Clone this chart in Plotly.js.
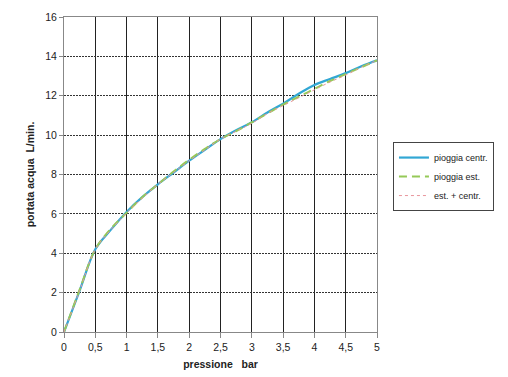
<!DOCTYPE html>
<html>
<head>
<meta charset="utf-8">
<script src="https://cdn.plot.ly/plotly-3.0.1.min.js"></script>
<style>html,body{margin:0;padding:0;background:#fff;}#chart{width:508px;height:377px;}</style>
</head>
<body>
<div id="chart"></div>
<script>
const pressione = [0, 0.25, 0.5, 0.75, 1, 1.25, 1.5, 1.75, 2, 2.25, 2.5, 2.75, 3, 3.25, 3.5, 3.75, 4, 4.25, 4.5, 4.75, 5];
const pioggiaCentr = [0, 2.1, 4.2, 5.2, 6.1, 6.85, 7.5, 8.1, 8.7, 9.25, 9.8, 10.25, 10.65, 11.15, 11.6, 12.1, 12.55, 12.85, 13.15, 13.5, 13.8];
const pioggiaEst = [0, 2.15, 4.2, 5.25, 6.05, 6.85, 7.5, 8.15, 8.75, 9.3, 9.8, 10.2, 10.65, 11.1, 11.55, 11.95, 12.35, 12.75, 13.1, 13.45, 13.8];
const estCentr = [0, 2.1, 4.2, 5.2, 6.05, 6.8, 7.5, 8.1, 8.7, 9.25, 9.8, 10.2, 10.6, 11.1, 11.5, 11.9, 12.3, 12.7, 13.05, 13.45, 13.8];
const xTickVals = [0, 0.5, 1, 1.5, 2, 2.5, 3, 3.5, 4, 4.5, 5];
const xTickText = ['0', '0,5', '1', '1,5', '2', '2,5', '3', '3,5', '4', '4,5', '5'];
const yTickVals = [0, 2, 4, 6, 8, 10, 12, 14, 16];
const seriesNames = ['pioggia centr.', 'pioggia est.', 'est. + centr.'];

const traces = [
  {x: pressione, y: pioggiaCentr, name: seriesNames[0], mode: 'lines', line: {color: '#31a7d4', width: 2.2, shape: 'spline'}},
  {x: pressione, y: pioggiaEst, name: seriesNames[1], mode: 'lines', line: {color: '#95c958', width: 2, dash: '8px,5px', shape: 'spline'}},
  {x: pressione, y: estCentr, name: seriesNames[2], mode: 'lines', line: {color: '#e8959c', width: 1, dash: 'dot', shape: 'spline'}}
];

const layout = {
  width: 508, height: 377,
  margin: {l: 64, r: 131, t: 17, b: 45},
  paper_bgcolor: '#ffffff', plot_bgcolor: '#ffffff',
  font: {family: 'Liberation Sans, Arial, sans-serif', size: 10, color: '#222'},
  showlegend: true,
  legend: {x: 1.051, y: 0.603, xanchor: 'left', yanchor: 'top', bordercolor: '#444', borderwidth: 1,
           font: {size: 9, color: '#222'}, bgcolor: '#fff', tracegroupgap: 0},
  xaxis: {
    range: [0, 5], tickvals: xTickVals, ticktext: xTickText,
    showgrid: true, gridcolor: '#222', gridwidth: 1,
    showline: true, linecolor: '#888', linewidth: 1, mirror: true,
    ticks: 'outside', ticklen: 5, tickcolor: '#888',
    zeroline: false, fixedrange: true,
    tickfont: {size: 10.5},
    title: {text: '<b>pressione\u00a0\u00a0\u00a0bar</b>', font: {size: 10.5, color: '#222'}, standoff: 9}
  },
  yaxis: {
    range: [0, 16], tickvals: yTickVals,
    showgrid: true, gridcolor: '#333', gridwidth: 1, griddash: '2px,1px',
    showline: true, linecolor: '#888', linewidth: 1, mirror: true,
    ticks: 'outside', ticklen: 4, tickcolor: '#888',
    zeroline: false, fixedrange: true,
    tickfont: {size: 10.5},
    title: {text: '<b>portata acqua\u00a0\u00a0L/min.</b>', font: {size: 10.5, color: '#222'}, standoff: 8}
  }
};

Plotly.newPlot('chart', traces, layout, {displayModeBar: false, staticPlot: true});
</script>
</body>
</html>
